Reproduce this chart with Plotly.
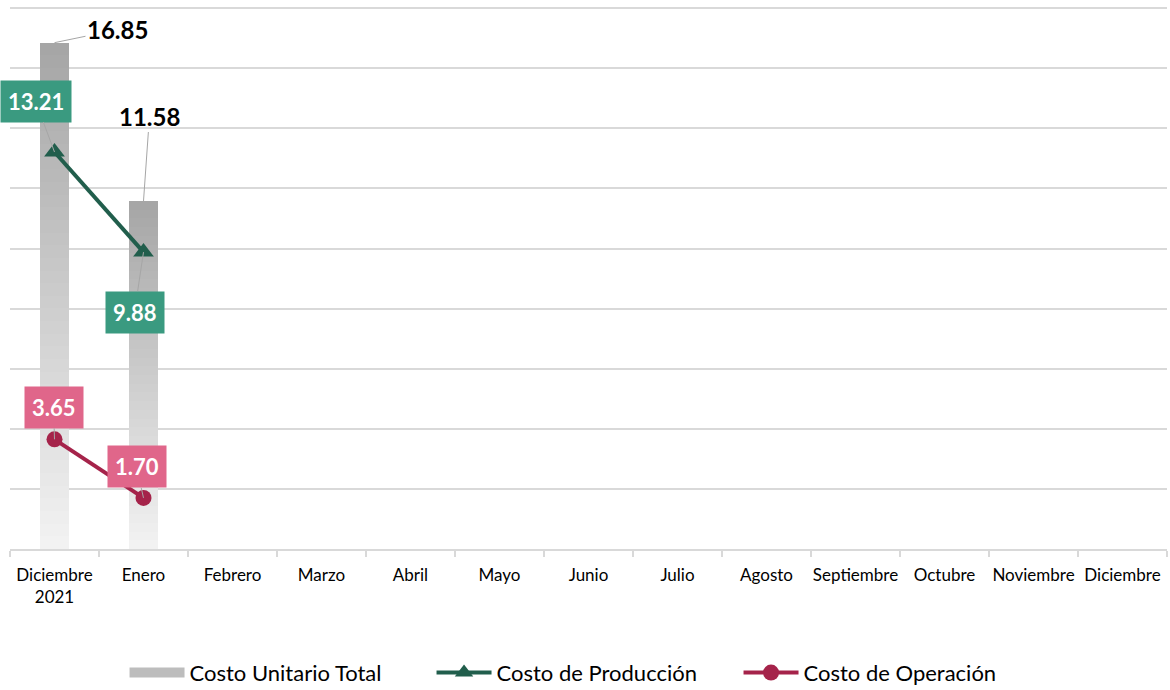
import plotly.graph_objects as go

categories = ["Diciembre<br>2021", "Enero", "Febrero", "Marzo", "Abril", "Mayo", "Junio",
              "Julio", "Agosto", "Septiembre", "Octubre", "Noviembre", "Diciembre"]
costo_total = [16.85, 11.58] + [None] * 11
costo_produccion = [13.21, 9.88] + [None] * 11
costo_operacion = [3.65, 1.70] + [None] * 11

FONT = "Lato"
GREEN_LINE = "#215E4C"
GREEN_BOX = "#3A9A80"
RED_LINE = "#A5234A"
PINK_BOX = "#E0668A"

fig = go.Figure()

# gradient bars built from stacked slices of each value
N = 40
top_rgb = (166, 166, 166)
bot_rgb = (242, 242, 242)
for i in range(N):
    t = i / (N - 1)
    c = tuple(int(round(bot_rgb[k] + (top_rgb[k] - bot_rgb[k]) * t)) for k in range(3))
    fig.add_trace(go.Bar(
        x=categories,
        y=[v / N if v is not None else None for v in costo_total],
        marker=dict(color="rgb(%d,%d,%d)" % c, line=dict(width=0)),
        width=0.32,
        showlegend=False,
        hoverinfo="skip",
    ))
# legend entry for bars
fig.add_trace(go.Scatter(
    x=[None], y=[None], mode="lines", name="Costo Unitario Total",
    line=dict(color="#BDBDBD", width=15), showlegend=True,
))

fig.add_trace(go.Scatter(
    x=categories, y=costo_produccion, mode="lines+markers", name="Costo de Producción",
    line=dict(color=GREEN_LINE, width=4),
    marker=dict(symbol="triangle-up", size=18, color=GREEN_LINE),
))
fig.add_trace(go.Scatter(
    x=categories, y=costo_operacion, mode="lines+markers", name="Costo de Operación",
    line=dict(color=RED_LINE, width=4),
    marker=dict(symbol="circle", size=16, color=RED_LINE),
))

# labels
total_offsets = [(63, -13), (6, -85)]
for i, v in enumerate(costo_total[:2]):
    fig.add_annotation(x=categories[i], y=v, text="<b>%.2f</b>" % v, showarrow=True,
                       arrowhead=0, arrowwidth=1, arrowcolor="#A6A6A6",
                       ax=total_offsets[i][0], ay=total_offsets[i][1],
                       font=dict(family=FONT, size=24, color="#000000"))
prod_offsets = [(-19, -51), (-9, 60)]
for i, v in enumerate(costo_produccion[:2]):
    fig.add_annotation(x=categories[i], y=v, text="<b>%.2f</b>" % v, showarrow=True,
                       arrowhead=0, arrowwidth=1, arrowcolor="#A6A6A6",
                       ax=prod_offsets[i][0], ay=prod_offsets[i][1],
                       bgcolor=GREEN_BOX, borderpad=7,
                       font=dict(family=FONT, size=22, color="#FFFFFF"))
op_offsets = [(-1, -32), (-7, -31)]
for i, v in enumerate(costo_operacion[:2]):
    fig.add_annotation(x=categories[i], y=v, text="<b>%.2f</b>" % v, showarrow=True,
                       arrowhead=0, arrowwidth=1, arrowcolor="#A6A6A6",
                       ax=op_offsets[i][0], ay=op_offsets[i][1],
                       bgcolor=PINK_BOX, borderpad=7,
                       font=dict(family=FONT, size=22, color="#FFFFFF"))

fig.update_layout(
    width=1170, height=690,
    barmode="stack",
    bargap=0.68,
    paper_bgcolor="white", plot_bgcolor="white",
    margin=dict(l=10, r=3, t=6, b=141, autoexpand=False),
    font=dict(family=FONT, size=17, color="#000000"),
    legend=dict(orientation="h", x=0.497, xanchor="center", y=-0.228, yanchor="middle",
                font=dict(family=FONT, size=22, color="#000000"), traceorder="normal",
                itemwidth=55, entrywidth=237),
    xaxis=dict(type="category", categoryorder="array", categoryarray=categories,
               range=[-0.5, 12.5], automargin=False, tickangle=0,
               showline=True, linecolor="#D9D9D9", linewidth=1.5,
               ticks="outside", tickson="boundaries", ticklen=6, tickcolor="#D9D9D9",
               tickwidth=1.5, showgrid=False, ticklabelstandoff=10,
               tickfont=dict(family=FONT, size=17, color="#000000")),
    yaxis=dict(range=[0, 18.07], dtick=2, showgrid=True, gridcolor="#D9D9D9", gridwidth=1.5,
               showticklabels=False, zeroline=False, showline=False, automargin=False),
)

fig.write_html("out.html", config={"displayModeBar": False},
               post_script="document.body.style.margin='0';")
